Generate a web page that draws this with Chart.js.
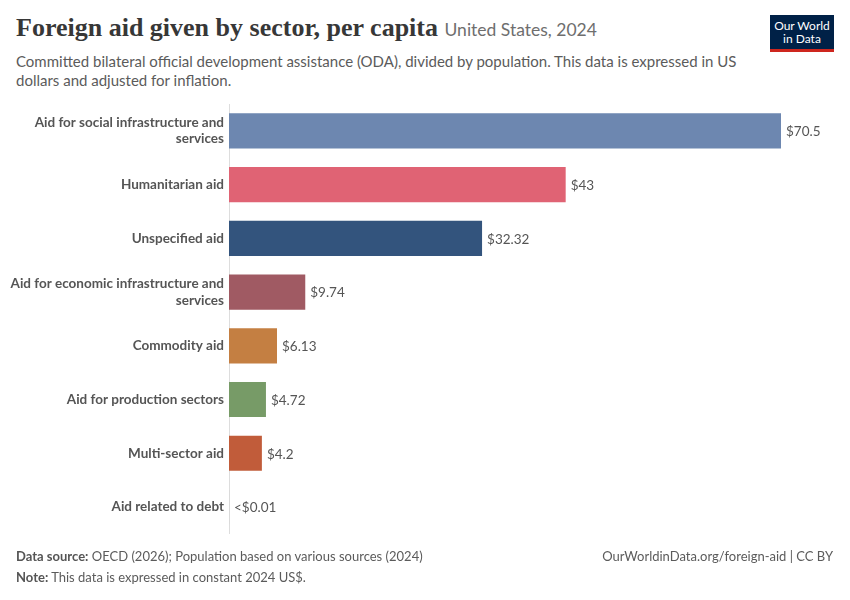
<!DOCTYPE html>
<html>
<head>
<meta charset="utf-8">
<script src="https://cdn.jsdelivr.net/npm/chart.js@4"></script>
<style>
  body { margin: 0; background: #fff; font-family: Lato, sans-serif; }
  #wrap { position: relative; width: 850px; height: 600px; overflow: hidden; }
  #title { position: absolute; left: 16px; top: 13px; font-family: "Liberation Serif", serif; font-weight: bold; font-size: 26px; color: #373737; white-space: nowrap; }
  #title span { font-family: Lato, sans-serif; font-weight: normal; font-size: 17.5px; color: #6e6e6e; }
  #subtitle { position: absolute; left: 16px; top: 52px; width: 760px; font-size: 15px; line-height: 19px; color: #5b5b5b; }
  #logo { position: absolute; left: 770px; top: 15px; width: 64px; background: #002147; color: #fff; font-size: 12px; line-height: 13px; text-align: center; padding-top: 4px; border-bottom: 3px solid #ce261e; height: 30px; }
  #chartBox { position: absolute; left: 0; top: 91px; width: 850px; height: 464px; }
  .foot { position: absolute; font-size: 13px; color: #5b5b5b; }
  .foot b { font-weight: bold; color: #555; }
</style>
</head>
<body>
<div id="wrap">
  <div id="title">Foreign aid given by sector, per capita <span>United States, 2024</span></div>
  <div id="subtitle">Committed bilateral official development assistance (ODA), divided by population. This data is expressed in US dollars and adjusted for inflation.</div>
  <div id="logo">Our World<br>in Data</div>
  <div id="chartBox"><canvas id="myChart"></canvas></div>
  <div class="foot" style="left:16px; top:548px;"><b>Data source:</b> OECD (2026); Population based on various sources (2024)</div>
  <div class="foot" style="left:16px; top:569px;"><b>Note:</b> This data is expressed in constant 2024 US$.</div>
  <div class="foot" style="right:17px; top:548px;">OurWorldinData.org/foreign-aid | CC BY</div>
</div>
<script>
const sectors = [
  ['Aid for social infrastructure and', 'services'],
  'Humanitarian aid',
  'Unspecified aid',
  ['Aid for economic infrastructure and', 'services'],
  'Commodity aid',
  'Aid for production sectors',
  'Multi-sector aid',
  'Aid related to debt'
];
const perCapita = [70.5, 43, 32.32, 9.74, 6.13, 4.72, 4.2, 0.005];
const valueLabels = ['$70.5', '$43', '$32.32', '$9.74', '$6.13', '$4.72', '$4.2', '<$0.01'];
const barColors = ['#6d87b0', '#e06374', '#33547d', '#a05a63', '#c47f42', '#779b67', '#c15c3a', '#999999'];

// etiquettes de valeur au bout des barres
const endLabels = {
  id: 'endLabels',
  afterDatasetsDraw(chart) {
    const ctx = chart.ctx;
    const meta = chart.getDatasetMeta(0);
    ctx.save();
    ctx.font = '13.5px Lato';
    ctx.fillStyle = '#555';
    ctx.textBaseline = 'middle';
    meta.data.forEach((bar, i) => {
      ctx.fillText(valueLabels[i], bar.x + 5, bar.y + 1);
    });
    ctx.restore();
  }
};

const ctx = document.getElementById('myChart').getContext('2d');
new Chart(ctx, {
  type: 'bar',
  data: {
    labels: sectors,
    datasets: [{
      data: perCapita,
      backgroundColor: barColors,
      barPercentage: 0.655,
      categoryPercentage: 1
    }]
  },
  options: {
    indexAxis: 'y',
    responsive: true,
    maintainAspectRatio: false,
    animation: false,
    layout: { padding: { left: 0, right: 69, top: 0, bottom: 0 } },
    plugins: { legend: { display: false }, tooltip: { enabled: false } },
    scales: {
      x: { display: false, min: 0, max: 70.5 },
      y: {
        afterFit: (scale) => { scale.width = 229; },
        grid: { display: false, drawTicks: false },
        border: { display: true, color: '#dddddd', width: 1 },
        ticks: { padding: 5, color: '#555', font: { family: 'Lato', size: 13.5, weight: 'bold' } }
      }
    }
  },
  plugins: [endLabels]
});
</script>
</body>
</html>
